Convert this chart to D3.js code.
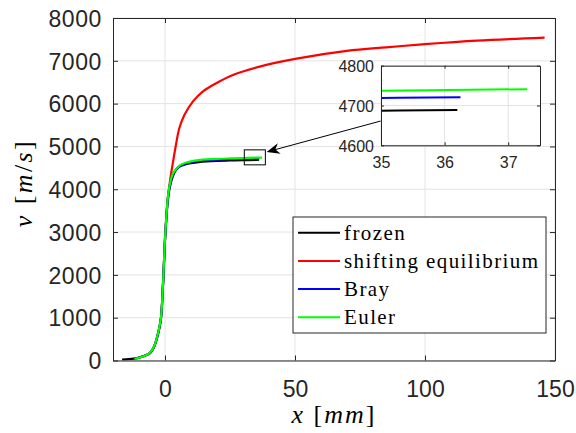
<!DOCTYPE html>
<html><head><meta charset="utf-8">
<script src="https://cdn.jsdelivr.net/npm/d3@7"></script>
<style>
html,body{margin:0;padding:0;background:#fff;}
svg{display:block;}
</style></head>
<body>
<svg id="chart" width="576" height="433"></svg>
<script>
// ---- data ----
const seriesNames = ["frozen", "shifting equilibrium", "Bray", "Euler"];
const seriesColors = ["#000000", "#ff0000", "#0000ff", "#00ff00"];

const frozenX = [-16.5,-14,-12,-10,-8,-6,-5,-4,-3,-2,-1.5,-1,-0.5,0,0.5,1,1.5,2,3,4,5,6,8,10,13,16,20,25,30,35,36.2];
const frozenV = [20,30,45,70,110,160,230,345,540,800,1000,1460,2100,2800,3300,3680,3930,4090,4300,4430,4500,4540,4585,4610,4635,4650,4662,4672,4680,4687,4689];

const shiftX = [-11.8,-10,-8,-6,-5,-4,-3,-2,-1.5,-1,-0.5,0,0.5,1,1.5,2,2.9,4.2,5.5,7.45,10.7,14.5,19.7,26.1,36.4,50.6,69.9,85,100,120,146];
const shiftV = [40,65,105,168,240,360,560,830,1030,1500,2150,2850,3330,3750,3990,4230,4568,5035,5425,5736,6047,6280,6477,6670,6865,7050,7231,7315,7388,7470,7542];

const brayX = [-11.8,-10,-8,-6,-5,-4,-3,-2,-1.5,-1,-0.5,0,0.5,1,1.5,2,3,4,5,6,8,10,13,16,20,25,30,35,36.25];
const brayV = [40,65,105,165,235,355,550,820,1020,1490,2140,2840,3320,3730,3980,4140,4340,4440,4510,4555,4600,4630,4660,4678,4692,4703,4712,4719,4721];

const eulerX = [-11.8,-10,-8,-6,-5,-4,-3,-2,-1.5,-1,-0.5,0,0.5,1,1.5,2,3,4,5,6,8,10,13,16,20,25,30,35,37.3];
const eulerV = [40,65,105,168,240,360,560,830,1030,1500,2150,2850,3330,3750,4000,4160,4360,4450,4520,4570,4620,4650,4680,4697,4710,4720,4728,4737,4741];

const xTicks = [0, 50, 100, 150];
const yTicks = [0,1000,2000,3000,4000,5000,6000,7000,8000];
const insetXTicks = [35, 36, 37];
const insetYTicks = [4600, 4700, 4800];
const xDomain = [-20, 150];
const yDomain = [0, 8000];
const insetXDomain = [35, 37.5];
const insetYDomain = [4600, 4800];
// zoom rectangle (data units) and arrow (data units)
const zoomRectX = [30.5, 38.6];
const zoomRectV = [4570, 4920];
const arrowFrom = [83.1, 5596];
const arrowTo = [39.1, 4871];

// ---- layout ----
const svg = d3.select("#chart");
const M = {left:113, right:555, top:18, bottom:360.5};
const x = d3.scaleLinear().domain(xDomain).range([M.left, M.right]);
const y = d3.scaleLinear().domain(yDomain).range([M.bottom, M.top]);
const axisColor = "#262626";
const gridColor = "#e3e3e3";
const tickFont = "'Liberation Sans', Arial, sans-serif";
const serif = "'Liberation Serif', 'Times New Roman', serif";
const fmt = d3.format("d");
const curve = d3.curveCatmullRom.alpha(0.5);

const series = [
  {x: frozenX, v: frozenV},
  {x: shiftX, v: shiftV},
  {x: brayX, v: brayV},
  {x: eulerX, v: eulerV}
];

// grid
const g = svg.append("g");
g.selectAll(".gx").data(xTicks).join("line")
  .attr("x1", d=>x(d)).attr("x2", d=>x(d)).attr("y1", M.top).attr("y2", M.bottom)
  .attr("stroke", gridColor).attr("stroke-width", 1);
g.selectAll(".gy").data(yTicks).join("line")
  .attr("x1", M.left).attr("x2", M.right).attr("y1", d=>y(d)).attr("y2", d=>y(d))
  .attr("stroke", gridColor).attr("stroke-width", 1);

// lines
const defs = svg.append("defs");
defs.append("clipPath").attr("id","mainclip")
  .append("rect").attr("x",M.left).attr("y",M.top).attr("width",M.right-M.left).attr("height",M.bottom-M.top);
const lg = svg.append("g").attr("clip-path","url(#mainclip)");
series.forEach((s,i)=>{
  lg.append("path").datum(s.x.map((xx,j)=>[xx, s.v[j]]))
    .attr("d", d3.line().curve(curve).x(d=>x(d[0])).y(d=>y(d[1])))
    .attr("fill","none").attr("stroke", seriesColors[i]).attr("stroke-width", 2.2)
    .attr("stroke-linejoin","round");
});

// axes (box with inward ticks)
const axB = d3.axisBottom(x).tickValues(xTicks).tickSizeInner(-5).tickSizeOuter(0).tickPadding(20).tickFormat(fmt);
const axT = d3.axisTop(x).tickValues(xTicks).tickSizeInner(-5).tickSizeOuter(0).tickFormat("");
const axL = d3.axisLeft(y).tickValues(yTicks).tickSizeInner(-5).tickSizeOuter(0).tickPadding(11).tickFormat(fmt);
const axR = d3.axisRight(y).tickValues(yTicks).tickSizeInner(-5).tickSizeOuter(0).tickFormat("");
function styleAxis(sel){
  sel.selectAll("path").attr("stroke", axisColor).attr("stroke-width", 1);
  sel.selectAll("line").attr("stroke", axisColor).attr("stroke-width", 1);
  sel.selectAll("text").attr("fill", axisColor).style("font-family", tickFont).style("font-size","23px");
}
svg.append("g").attr("transform",`translate(0,${M.bottom})`).call(axB).call(styleAxis)
  .selectAll("text").attr("dy","0.71em");
svg.append("g").attr("transform",`translate(0,${M.top})`).call(axT).call(styleAxis);
svg.append("g").attr("transform",`translate(${M.left},0)`).call(axL).call(styleAxis)
  .selectAll("text").attr("dy","0.36em").style("letter-spacing","0.6px");
svg.append("g").attr("transform",`translate(${M.right},0)`).call(axR).call(styleAxis);

// axis labels
const xl = svg.append("text").attr("x", 334).attr("y", 423).attr("text-anchor","middle")
  .style("font-family", serif).style("font-size","26px").style("letter-spacing","2px").attr("fill","#000");
xl.append("tspan").style("font-style","italic").text("x");
xl.append("tspan").text(" [");
xl.append("tspan").style("font-style","italic").text("mm");
xl.append("tspan").text("]");
const yl = svg.append("text").attr("transform","translate(32,183) rotate(-90)").attr("text-anchor","middle")
  .style("font-family", serif).style("font-size","26px").style("letter-spacing","2.4px").attr("fill","#000");
yl.append("tspan").style("font-style","italic").text("v");
yl.append("tspan").text(" [");
yl.append("tspan").style("font-style","italic").text("m");
yl.append("tspan").text("/");
yl.append("tspan").style("font-style","italic").text("s");
yl.append("tspan").text("]");

// zoom rectangle
svg.append("rect").attr("x", x(zoomRectX[0])).attr("y", y(zoomRectV[1]))
  .attr("width", x(zoomRectX[1])-x(zoomRectX[0])).attr("height", y(zoomRectV[0])-y(zoomRectV[1]))
  .attr("fill","none").attr("stroke","#000").attr("stroke-width",1);

// arrow
const ax0 = x(arrowFrom[0]), ay0 = y(arrowFrom[1]), ax1 = x(arrowTo[0]), ay1 = y(arrowTo[1]);
const ang = Math.atan2(ay1-ay0, ax1-ax0);
svg.append("line").attr("x1",ax0).attr("y1",ay0).attr("x2",ax1 - 8*Math.cos(ang)).attr("y2",ay1 - 8*Math.sin(ang))
  .attr("stroke","#000").attr("stroke-width",1);
{
  const L = 13, W = 5.5, back = 9;
  const ux = Math.cos(ang), uy = Math.sin(ang), px = -uy, py = ux;
  const bx = ax1 - L*ux, by = ay1 - L*uy;
  const nx = ax1 - back*ux, ny = ay1 - back*uy;
  const pts = [[ax1,ay1],[bx+W*px,by+W*py],[nx,ny],[bx-W*px,by-W*py]];
  svg.append("polygon").attr("points", pts.map(p=>p.join(",")).join(" ")).attr("fill","#000");
}

// legend
const LG = {x:293, y:217, w:253, h:116};
svg.append("rect").attr("x",LG.x).attr("y",LG.y).attr("width",LG.w).attr("height",LG.h)
  .attr("fill","#fff").attr("stroke",axisColor).attr("stroke-width",1);
seriesNames.forEach((n,i)=>{
  const yy = 232.7 + i*28.2;
  svg.append("line").attr("x1",298).attr("x2",340).attr("y1",yy).attr("y2",yy)
    .attr("stroke",seriesColors[i]).attr("stroke-width",2);
  svg.append("text").attr("x",344).attr("y",yy).attr("dy","0.33em")
    .style("font-family", serif).style("font-size","21px").style("letter-spacing","1.4px").attr("fill","#000").text(n);
});

// inset
const I = {left:381, right:540, top:65.7, bottom:145.3};
const ix = d3.scaleLinear().domain(insetXDomain).range([I.left, I.right]);
const iy = d3.scaleLinear().domain(insetYDomain).range([I.bottom, I.top]);
const ig = svg.append("g");
ig.append("rect").attr("x",I.left).attr("y",I.top).attr("width",I.right-I.left).attr("height",I.bottom-I.top).attr("fill","#fff");
ig.selectAll(".igx").data(insetXTicks).join("line")
  .attr("x1", d=>ix(d)).attr("x2", d=>ix(d)).attr("y1", I.top).attr("y2", I.bottom)
  .attr("stroke", gridColor).attr("stroke-width", 1);
ig.selectAll(".igy").data(insetYTicks).join("line")
  .attr("x1", I.left).attr("x2", I.right).attr("y1", d=>iy(d)).attr("y2", d=>iy(d))
  .attr("stroke", gridColor).attr("stroke-width", 1);
defs.append("clipPath").attr("id","insetclip")
  .append("rect").attr("x",I.left).attr("y",I.top).attr("width",I.right-I.left).attr("height",I.bottom-I.top);
const ilg = ig.append("g").attr("clip-path","url(#insetclip)");
series.forEach((s,i)=>{
  ilg.append("path").datum(s.x.map((xx,j)=>[xx, s.v[j]]))
    .attr("d", d3.line().curve(curve).x(d=>ix(d[0])).y(d=>iy(d[1])))
    .attr("fill","none").attr("stroke", seriesColors[i]).attr("stroke-width", 2);
});
const iaB = d3.axisBottom(ix).tickValues(insetXTicks).tickSizeInner(-3).tickSizeOuter(0).tickPadding(11).tickFormat(fmt);
const iaT = d3.axisTop(ix).tickValues(insetXTicks).tickSizeInner(-3).tickSizeOuter(0).tickFormat("");
const iaL = d3.axisLeft(iy).tickValues(insetYTicks).tickSizeInner(-3).tickSizeOuter(0).tickPadding(7).tickFormat(fmt);
const iaR = d3.axisRight(iy).tickValues(insetYTicks).tickSizeInner(-3).tickSizeOuter(0).tickFormat("");
function styleInset(sel){
  sel.selectAll("path").attr("stroke", axisColor).attr("stroke-width", 1);
  sel.selectAll("line").attr("stroke", axisColor).attr("stroke-width", 1);
  sel.selectAll("text").attr("fill", axisColor).style("font-family", tickFont).style("font-size","16px");
}
ig.append("g").attr("transform",`translate(0,${I.bottom})`).call(iaB).call(styleInset)
  .selectAll("text").attr("dy","0.71em");
ig.append("g").attr("transform",`translate(0,${I.top})`).call(iaT).call(styleInset);
ig.append("g").attr("transform",`translate(${I.left},0)`).call(iaL).call(styleInset)
  .selectAll("text").attr("dy","0.36em");
ig.append("g").attr("transform",`translate(${I.right},0)`).call(iaR).call(styleInset);
</script>
</body></html>
